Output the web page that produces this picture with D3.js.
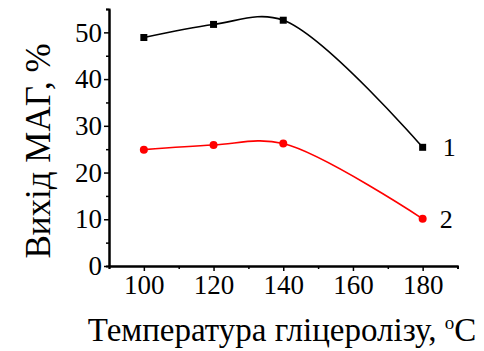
<!DOCTYPE html>
<html>
<head>
<meta charset="utf-8">
<script src="https://cdn.jsdelivr.net/npm/d3@7"></script>
<style>
body { margin: 0; background: #fff; }
text { font-family: "Liberation Serif", "Times New Roman", serif; fill: #000; }
.tick text { font-family: "Liberation Serif", "Times New Roman", serif; font-size: 27px; }
</style>
</head>
<body>
<div id="chart"></div>
<script>
var temps = [100, 120, 140, 180];
var series1 = [48.9, 51.7, 52.6, 25.4];
var series2 = [24.9, 25.9, 26.2, 10.1];
var xTicks = [100, 120, 140, 160, 180];
var yTicks = [0, 10, 20, 30, 40, 50];

var W = 484, H = 351;
var svg = d3.select("#chart").append("svg").attr("width", W).attr("height", H);

var x = d3.scaleLinear().domain([90, 190]).range([109, 457.5]);
var y = d3.scaleLinear().domain([0, 55]).range([266, 9]);

// axes
var xAxis = d3.axisBottom(x).tickValues(xTicks).tickSize(5).tickSizeOuter(0).tickPadding(4);
var xMinor = d3.axisBottom(x).tickValues([90, 110, 130, 150, 170, 190]).tickSize(3).tickFormat("");
var yAxis = d3.axisLeft(y).tickValues(yTicks).tickSize(5).tickSizeOuter(0).tickPadding(2);
var yMinor = d3.axisLeft(y).tickValues([5, 15, 25, 35, 45, 55]).tickSize(3).tickFormat("");

function styleAxis(g) {
    g.attr("font-family", null).attr("font-size", null);
    g.select(".domain").attr("stroke", "#000").attr("stroke-width", 2);
    g.selectAll(".tick line").attr("stroke", "#000").attr("stroke-width", 1.5);
    g.selectAll("text").attr("fill", "#000");
}

svg.append("g").attr("transform", "translate(0," + y(0) + ")").call(xMinor).call(styleAxis);
svg.append("g").attr("transform", "translate(0," + y(0) + ")").call(xAxis).call(styleAxis);
svg.append("g").attr("transform", "translate(" + x(90) + ",0)").call(yMinor).call(styleAxis);
svg.append("g").attr("transform", "translate(" + x(90) + ",0)").call(yAxis).call(styleAxis);

// curves
var line = d3.line().x(function(d) { return x(d[0]); }).y(function(d) { return y(d[1]); }).curve(d3.curveCatmullRom.alpha(0.5));
var d1 = temps.map(function(t, i) { return [t, series1[i]]; });
var d2 = temps.map(function(t, i) { return [t, series2[i]]; });

svg.append("path").attr("d", line(d1)).attr("fill", "none").attr("stroke", "#000").attr("stroke-width", 1.6);
svg.append("path").attr("d", line(d2)).attr("fill", "none").attr("stroke", "#ff0000").attr("stroke-width", 1.6);

svg.selectAll(".sq").data(d1).enter().append("rect")
    .attr("x", function(d) { return x(d[0]) - 3.5; })
    .attr("y", function(d) { return y(d[1]) - 3.5; })
    .attr("width", 7).attr("height", 7).attr("fill", "#000");

svg.selectAll(".dot").data(d2).enter().append("circle")
    .attr("cx", function(d) { return x(d[0]); })
    .attr("cy", function(d) { return y(d[1]); })
    .attr("r", 4).attr("fill", "#ff0000");

// series labels
svg.append("text").attr("x", x(180) + 20).attr("y", y(series1[3]) + 9).style("font-size", "26px").text("1");
svg.append("text").attr("x", x(180) + 17).attr("y", y(series2[3]) + 9).style("font-size", "26px").text("2");

// axis titles
var xt = svg.append("text").attr("x", 282).attr("y", 341).attr("text-anchor", "middle").style("font-size", "33px");
xt.append("tspan").text("Температура гліцеролізу, ");
xt.append("tspan").attr("dy", -12).style("font-size", "19px").text("o");
xt.append("tspan").attr("dy", 12).text("C");

svg.append("text").attr("transform", "translate(38,151) rotate(-90)")
    .attr("text-anchor", "middle").attr("dominant-baseline", "central").style("font-size", "35px").text("Вихід МАГ, %");
</script>
</body>
</html>
